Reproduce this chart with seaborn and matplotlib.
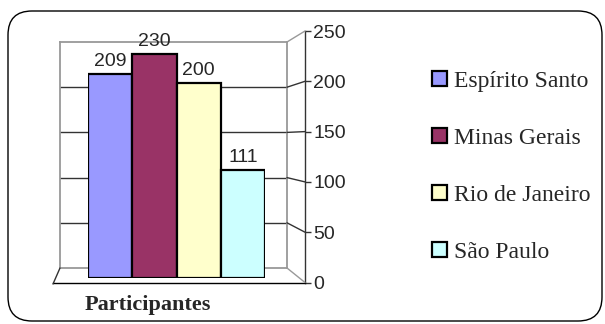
import matplotlib
matplotlib.use("Agg")
import matplotlib.pyplot as plt
import seaborn as sns
import pandas as pd
from matplotlib.lines import Line2D
from matplotlib.patches import FancyBboxPatch
from matplotlib.transforms import IdentityTransform

estados = ["Espírito Santo", "Minas Gerais", "Rio de Janeiro", "São Paulo"]
participantes = [209, 230, 200, 111]
cores = ["#9999FF", "#993366", "#FFFFCC", "#CCFFFF"]
yticks = [0, 50, 100, 150, 200, 250]
xlabel = "Participantes"

df = pd.DataFrame({"Estado": estados, "Participantes": participantes})

W, H = 605, 324
sns.set_theme(style="white")
plt.rcParams["font.family"] = ["Liberation Sans", "DejaVu Sans"]

fig = plt.figure(figsize=(W / 100, H / 100), dpi=100)
fig.patch.set_facecolor("white")


def box(x0, y0, x1, y1):
    """Pixel box (origin top-left) -> figure rect."""
    return [x0 / W, 1 - y1 / H, (x1 - x0) / W, (y1 - y0) / H]


def fy(y):
    return 1 - y / H


GRAY = "#999999"
DARK = "#333333"

# back wall with its gridlines
wall = fig.add_axes(box(60, 42, 287, 268))
wall.set_xlim(0, 1)
wall.set_ylim(0, 250)
wall.set_xticks([])
wall.set_yticks(yticks[1:-1])
wall.set_yticklabels([])
wall.tick_params(left=False, right=False)
wall.yaxis.grid(True, color=DARK, lw=1)
wall.set_facecolor("none")
for s in wall.spines.values():
    s.set_visible(True)
    s.set_color(GRAY)
    s.set_linewidth(1.3)

# floor / side edges
fig.add_artist(Line2D([53 / W, 60 / W], [fy(284), fy(268)], color=DARK, lw=1))
for v in yticks:
    yb = 268 - v * 226 / 250
    yf = 282.5 - v * 251.5 / 250
    col = GRAY if v in (0, 250) else DARK
    fig.add_artist(Line2D([287 / W, 305 / W], [fy(yb), fy(yf)], color=col, lw=1))

# front value axis
front = fig.add_axes(box(53, 31, 305, 282.5))
front.set_ylim(0, 250)
front.set_xlim(0, 1)
front.set_xticks([])
front.set_yticks(yticks)
front.set_yticklabels([str(t) for t in yticks])
front.yaxis.tick_right()
front.tick_params(axis="y", direction="out", length=4, width=1, color=DARK,
                  labelsize=14, pad=2, right=True, left=False)
front.set_facecolor("none")
front.spines["left"].set_visible(False)
front.spines["top"].set_visible(False)
front.spines["right"].set_color(DARK)
front.spines["bottom"].set_color("black")
front.spines["right"].set_linewidth(1)
front.spines["bottom"].set_linewidth(1)

# bars
ax = fig.add_axes(box(88, 34.25, 265, 278))
sns.barplot(data=df, x="Estado", y="Participantes", hue="Estado",
            palette=cores, width=1.0, edgecolor="black", linewidth=1.6,
            saturation=1, ax=ax, legend=True)
ax.set_xlim(-0.5, 3.5)
ax.set_ylim(0, 250)
ax.set_facecolor("none")
ax.set_xlabel("")
ax.set_ylabel("")
ax.set_xticks([])
ax.set_yticks([])
for s in ax.spines.values():
    s.set_visible(False)
for c in ax.containers:
    ax.bar_label(c, padding=3, fontsize=14)

sns.move_legend(ax, "upper left", bbox_to_anchor=(432 / W, fy(71)),
                bbox_transform=fig.transFigure, frameon=False, title=None,
                prop={"family": "Liberation Serif", "size": 17},
                labelspacing=1.52, handlelength=0.65, handleheight=0.62,
                handletextpad=0.28, borderpad=0, borderaxespad=0)

fig.text(148 / W, fy(305), xlabel, ha="center", va="center",
         family="Liberation Serif", weight="bold", size=16)

# rounded outer border
fig.add_artist(FancyBboxPatch((8, H - 321), 594, 310,
                              boxstyle="round,pad=0,rounding_size=24",
                              transform=IdentityTransform(), fill=False,
                              ec="black", lw=1))

fig.savefig("out.png", dpi=100)
